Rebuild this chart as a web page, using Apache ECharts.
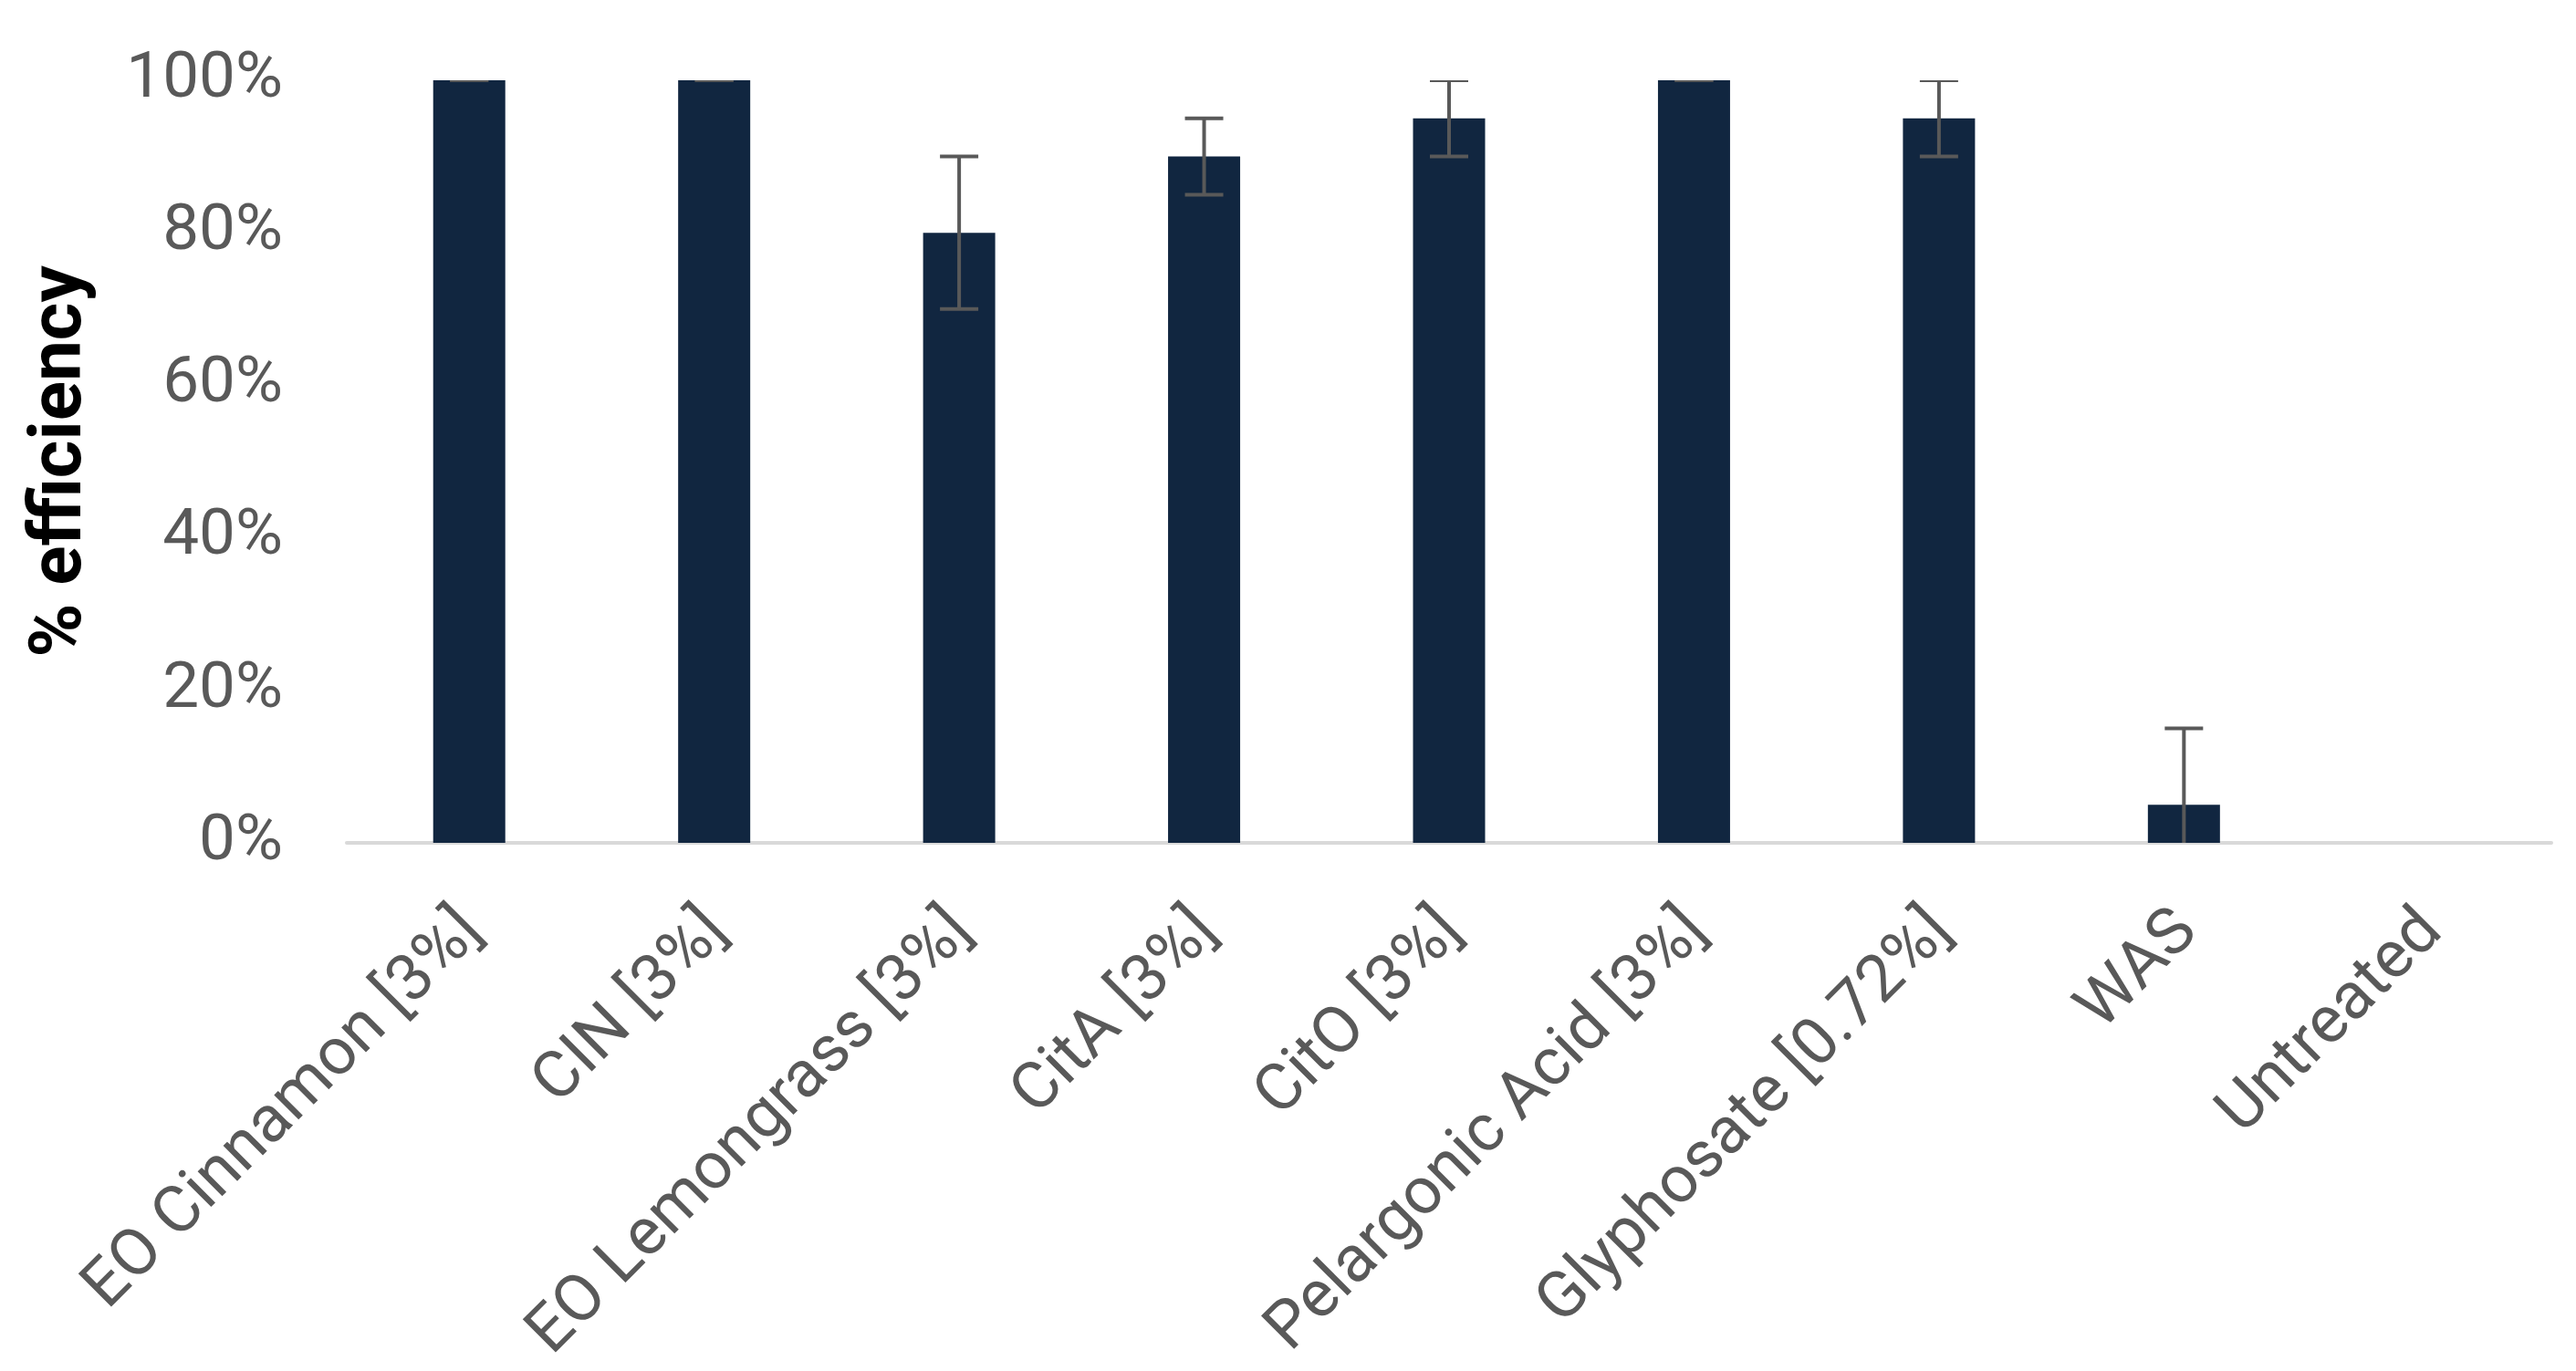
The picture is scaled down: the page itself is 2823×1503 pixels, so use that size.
<!DOCTYPE html>
<html>
<head>
<meta charset="utf-8">
<script src="https://cdn.jsdelivr.net/npm/echarts@6/dist/echarts.min.js"></script>
<style>
html,body{margin:0;padding:0;background:#fff;}
#chart{width:2823px;height:1503px;}
</style>
</head>
<body>
<div id="chart"></div>
<script>
const categories = ['EO Cinnamon [3%]', 'CIN [3%]', 'EO Lemongrass [3%]', 'CitA [3%]', 'CitO [3%]', 'Pelargonic Acid [3%]', 'Glyphosate [0.72%]', 'WAS', 'Untreated'];
const efficiency = [100, 100, 80, 90, 95, 100, 95, 5, 0];
const errors = [0, 0, 10, 5, 5, 0, 5, 10, null];
const yTicks = [0, 20, 40, 60, 80, 100];

const errData = [];
categories.forEach((c, i) => {
  if (errors[i] !== null) errData.push([i, efficiency[i], efficiency[i] - errors[i], efficiency[i] + errors[i]]);
});

const chart = echarts.init(document.getElementById('chart'));
chart.setOption({
  animation: false,
  backgroundColor: '#ffffff',
  grid: { left: 380, right: 27, top: 88, bottom: 579, containLabel: false },
  xAxis: {
    type: 'category',
    data: categories,
    axisLine: { show: true, lineStyle: { color: '#d9d9d9', width: 4 } },
    axisTick: { show: false },
    axisLabel: {
      interval: 0,
      rotate: 45,
      align: 'right',
      verticalAlign: 'top',
      margin: 40,
      padding: [0, 30, 0, 0],
      color: '#595959',
      fontFamily: 'Roboto',
      fontSize: 72
    }
  },
  yAxis: {
    type: 'value',
    min: yTicks[0],
    max: yTicks[yTicks.length - 1],
    interval: 20,
    name: '% efficiency',
    nameLocation: 'middle',
    nameRotate: 90,
    nameGap: 272,
    nameTextStyle: { color: '#000000', fontFamily: 'Roboto', fontWeight: 'bold', fontSize: 80 },
    axisLine: { show: false },
    axisTick: { show: false },
    splitLine: { show: false },
    axisLabel: {
      formatter: '{value}%',
      color: '#595959',
      fontFamily: 'Roboto',
      fontSize: 71,
      margin: 70
    }
  },
  series: [
    {
      type: 'bar',
      data: efficiency,
      barWidth: 79,
      itemStyle: { color: '#112640' }
    },
    {
      type: 'custom',
      clip: true,
      data: errData,
      renderItem: function (params, api) {
        const x = api.value(0);
        const lo = api.value(2);
        const hi = api.value(3);
        const pHi = api.coord([x, hi]);
        const pLo = api.coord([x, lo]);
        const half = 21;
        const style = { stroke: '#595959', lineWidth: 4 };
        return {
          type: 'group',
          children: [
            { type: 'line', shape: { x1: pHi[0], y1: pHi[1], x2: pLo[0], y2: pLo[1] }, style: style },
            { type: 'line', shape: { x1: pHi[0] - half, y1: pHi[1], x2: pHi[0] + half, y2: pHi[1] }, style: style },
            { type: 'line', shape: { x1: pLo[0] - half, y1: pLo[1], x2: pLo[0] + half, y2: pLo[1] }, style: style }
          ]
        };
      },
      z: 5
    }
  ]
});
</script>
</body>
</html>
